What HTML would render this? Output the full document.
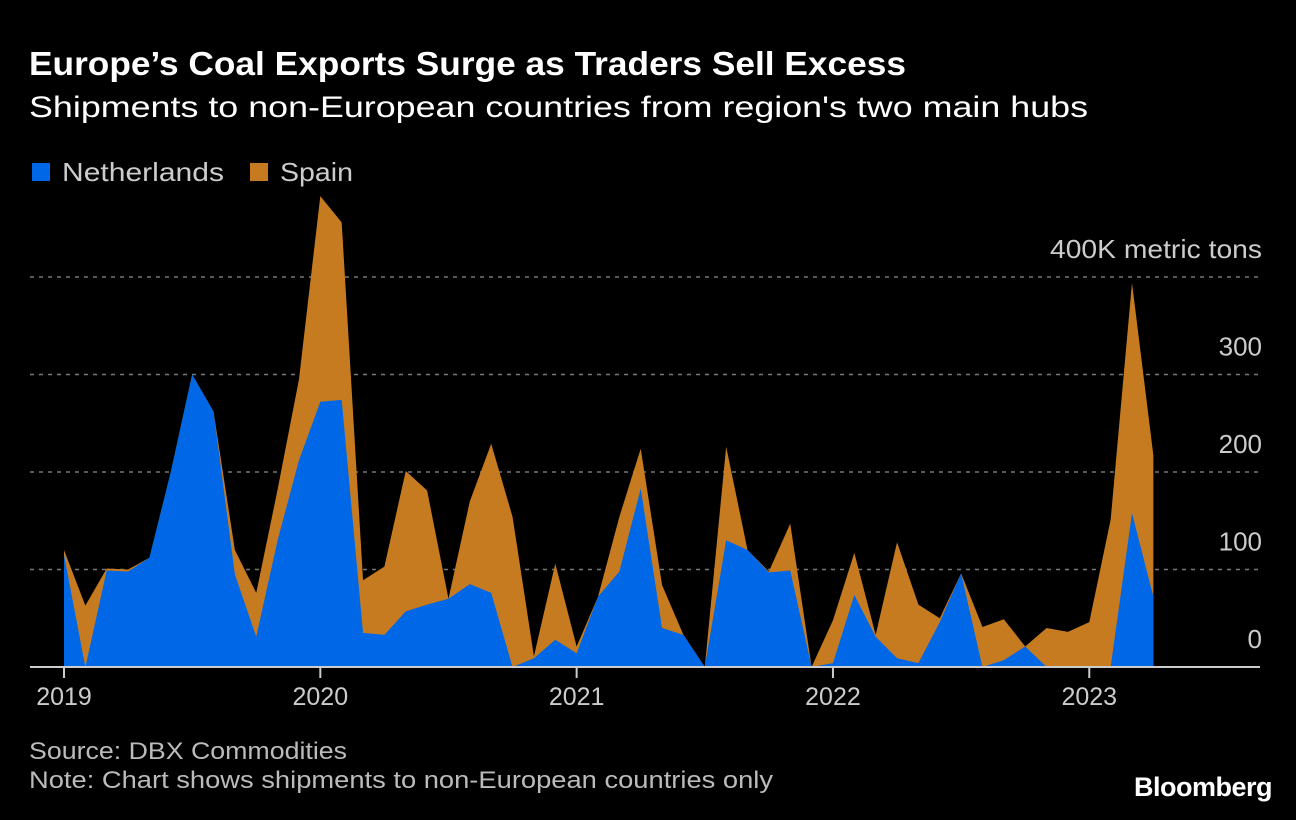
<!DOCTYPE html>
<html><head><meta charset="utf-8"><style>
body{margin:0;background:#000;width:1296px;height:820px;overflow:hidden;font-family:"Liberation Sans",sans-serif;color:#fff}
svg{position:absolute;left:0;top:0}
</style></head><body>
<svg width="1296" height="820">
<text x="29" y="75" font-size="33" font-weight="bold" fill="#fff" textLength="877" lengthAdjust="spacingAndGlyphs">Europe’s Coal Exports Surge as Traders Sell Excess</text>
<text x="29" y="117" font-size="30" fill="#fff" textLength="1059" lengthAdjust="spacingAndGlyphs">Shipments to non-European countries from region's two main hubs</text>
<g>
<rect x="32" y="163" width="18" height="18" fill="#0068E6"/>
<text x="62" y="181" font-size="26" fill="#ccc" textLength="162" lengthAdjust="spacingAndGlyphs">Netherlands</text>
<rect x="250" y="163" width="18" height="18" fill="#C67B20"/>
<text x="280" y="181" font-size="26" fill="#ccc" textLength="73" lengthAdjust="spacingAndGlyphs">Spain</text>
</g>
<g id="grid"></g>
<g id="areas"></g>
<g id="xaxis"></g>
<text x="29" y="759" font-size="24" fill="#bbb" textLength="318" lengthAdjust="spacingAndGlyphs">Source: DBX Commodities</text>
<text x="29" y="788" font-size="24" fill="#bbb" textLength="744" lengthAdjust="spacingAndGlyphs">Note: Chart shows shipments to non-European countries only</text>
<text x="1272" y="796" font-size="27" font-weight="bold" fill="#fff" text-anchor="end" letter-spacing="-0.5">Bloomberg</text>
</svg>
<script>
const netherlands=[115,0,99,98,112,200,300,262,95,31,130,212,272,274,35,33,57,64,70,85,76,0,9,28,14,72,98,183,40,33,0,130,120,97,99,0,4,74,31,9,4,46,96,0,7,21,0,0,0,0,158,72];
const spain=[5,63,2,2,0,0,0,0,25,45,52,83,211,182,54,70,144,117,0,85,153,154,2,78,7,0,56,41,44,0,0,96,0,1,48,0,44,43,2,119,60,4,0,41,42,0,40,36,46,151,236,145];
const yTicks=[0,100,200,300,400];
const yTickLabels=["0","100","200","300","400K metric tons"];
const years=[2019,2020,2021,2022,2023];
const NS="http://www.w3.org/2000/svg";
const xs=i=>64+i*21.36;
const ys=v=>667-v*0.975;
const yearX=yr=>64+(yr-2019)*12*21.36;
function mk(tag,attrs,parent){const e=document.createElementNS(NS,tag);for(const k in attrs)e.setAttribute(k,attrs[k]);parent.appendChild(e);return e;}
const grid=document.getElementById('grid');
yTicks.forEach((t,i)=>{
  if(t>0){const l=mk('line',{x1:30,x2:1260,y1:ys(t),y2:ys(t),stroke:'#777','stroke-width':1.5,'stroke-dasharray':'4,5'},grid);
  
  }
  const tx=mk('text',{x:1262,y:ys(t)-19,'font-size':26,fill:'#ccc','text-anchor':'end'},grid);
  if(t===400){tx.setAttribute('textLength',212);tx.setAttribute('lengthAdjust','spacingAndGlyphs');}
  tx.textContent=yTickLabels[i];
  
  
});
const areas=document.getElementById('areas');
const n=netherlands.length;
const totalPts=[],nlPts=[];
for(let i=0;i<n;i++){totalPts.push(xs(i)+','+ys(netherlands[i]+spain[i]));nlPts.push(xs(i)+','+ys(netherlands[i]));}
const base=xs(n-1)+','+ys(0)+' '+xs(0)+','+ys(0);
const sp=mk('polygon',{points:totalPts.join(' ')+' '+base,fill:'#C67B20'},areas);


const nla=mk('polygon',{points:nlPts.join(' ')+' '+base,fill:'#0068E6'},areas);


const xa=document.getElementById('xaxis');
const ax=mk('line',{x1:30,x2:1260,y1:667,y2:667,stroke:'#ccc','stroke-width':2},xa);


years.forEach(yr=>{
  const tk=mk('line',{x1:yearX(yr),x2:yearX(yr),y1:667,y2:678,stroke:'#ccc','stroke-width':2},xa);
  
  
  const t=mk('text',{x:yearX(yr),y:705,'font-size':25,fill:'#ccc','text-anchor':'middle'},xa);
  t.textContent=yr;
  
  
});
</script>
</body></html>
